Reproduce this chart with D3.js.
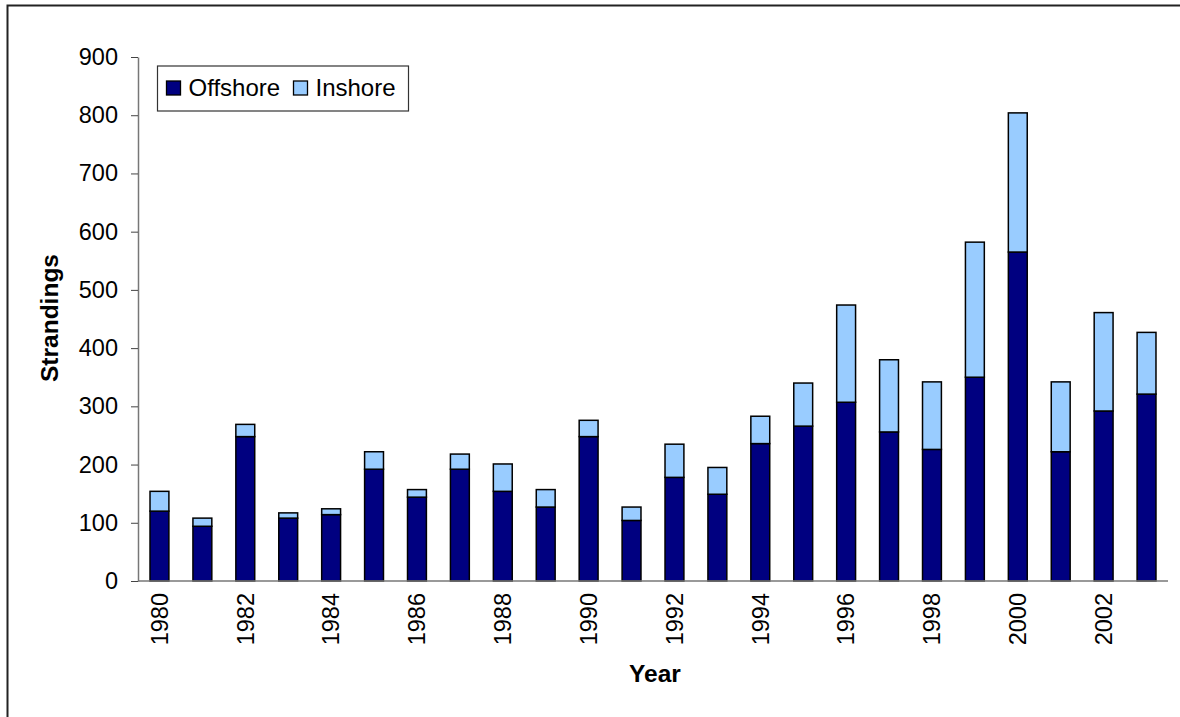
<!DOCTYPE html>
<html>
<head>
<meta charset="utf-8">
<script src="https://cdn.jsdelivr.net/npm/d3@7"></script>
<style>
  body { margin: 0; background: #fff; }
  text { font-family: "Liberation Sans", Arial, sans-serif; }
</style>
</head>
<body>
<script>
var years = [1980, 1981, 1982, 1983, 1984, 1985, 1986, 1987, 1988, 1989, 1990, 1991,
             1992, 1993, 1994, 1995, 1996, 1997, 1998, 1999, 2000, 2001, 2002, 2003];
var offshore = [120, 94, 248, 108, 114, 192, 144, 192, 154, 127, 248, 104,
                178, 149, 236, 266, 307, 256, 226, 350, 565, 222, 292, 321];
var inshore = [34, 14, 21, 9, 10, 30, 13, 26, 47, 30, 28, 23,
               57, 46, 47, 74, 167, 124, 116, 232, 239, 120, 169, 106];
var yTicks = [0, 100, 200, 300, 400, 500, 600, 700, 800, 900];
var seriesNames = ['Offshore', 'Inshore'];
var seriesColors = ['#000080', '#99ccff'];

var W = 1180, H = 717;
var plot = { left: 138, right: 1168, top: 57, bottom: 581 };
var FONT = '"Liberation Sans", Arial, sans-serif';

var svg = d3.select('body').append('svg')
  .attr('width', W)
  .attr('height', H);

// chart frame (clipped at right and bottom in the original)
svg.append('path')
  .attr('d', 'M7.5,' + H + ' V5.5 H' + W)
  .attr('fill', 'none')
  .attr('stroke', '#222')
  .attr('stroke-width', 2);

var x = d3.scaleBand()
  .domain(years)
  .range([plot.left, plot.right])
  .paddingInner(0.56)
  .paddingOuter(0.28);

var y = d3.scaleLinear()
  .domain([0, 900])
  .range([plot.bottom, plot.top]);

var rows = years.map((yr, i) => ({ year: yr, Offshore: offshore[i], Inshore: inshore[i] }));
var stacked = d3.stack().keys(seriesNames)(rows);

svg.selectAll('g.series')
  .data(stacked)
  .enter()
  .append('g')
  .attr('class', 'series')
  .attr('fill', (d, i) => seriesColors[i])
  .selectAll('rect')
  .data(d => d)
  .enter()
  .append('rect')
  .attr('x', d => x(d.data.year))
  .attr('y', d => y(d[1]))
  .attr('width', x.bandwidth())
  .attr('height', d => y(d[0]) - y(d[1]))
  .attr('stroke', '#000')
  .attr('stroke-width', 1.5);

// y axis
var yAxis = svg.append('g')
  .attr('transform', 'translate(' + plot.left + ',0)')
  .call(d3.axisLeft(y).tickValues(yTicks).tickSize(7).tickPadding(13).tickSizeOuter(0));
yAxis.select('.domain').attr('stroke', '#777').attr('stroke-width', 1.5);
yAxis.selectAll('.tick line').attr('stroke', '#444');
yAxis.selectAll('.tick text')
  .attr('font-size', 23.5)
  .attr('fill', '#000')
  .style('font-family', FONT);

// x axis
var xAxis = svg.append('g')
  .attr('transform', 'translate(0,' + plot.bottom + ')')
  .call(d3.axisBottom(x).tickValues(years.filter((d, i) => i % 2 === 0)).tickSize(0).tickSizeOuter(0));
xAxis.select('.domain')
  .attr('d', 'M' + plot.left + ',0H' + plot.right)
  .attr('stroke', '#777').attr('stroke-width', 1.5);
xAxis.selectAll('.tick text')
  .attr('font-size', 23.5)
  .attr('fill', '#000')
  .style('font-family', FONT)
  .attr('transform', 'rotate(-90)')
  .attr('text-anchor', 'end')
  .attr('x', -12)
  .attr('y', 0)
  .attr('dy', '0.35em');

// axis titles
svg.append('text')
  .attr('transform', 'translate(58,318) rotate(-90)')
  .attr('text-anchor', 'middle')
  .attr('font-size', 24.5)
  .attr('font-weight', 'bold')
  .text('Strandings');

svg.append('text')
  .attr('x', 655)
  .attr('y', 682)
  .attr('text-anchor', 'middle')
  .attr('font-size', 24.5)
  .attr('font-weight', 'bold')
  .text('Year');

// legend
var legend = svg.append('g').attr('transform', 'translate(157.5,66)');
legend.append('rect')
  .attr('width', 251)
  .attr('height', 45)
  .attr('fill', '#fff')
  .attr('stroke', '#333')
  .attr('stroke-width', 1.2);

var legendX = [9, 136];
var items = legend.selectAll('g.item')
  .data(seriesNames)
  .enter()
  .append('g')
  .attr('class', 'item')
  .attr('transform', (d, i) => 'translate(' + legendX[i] + ',0)');
items.append('rect')
  .attr('y', 15)
  .attr('width', 14)
  .attr('height', 14)
  .attr('fill', (d, i) => seriesColors[i])
  .attr('stroke', '#000')
  .attr('stroke-width', 1.3);
items.append('text')
  .attr('x', 22)
  .attr('y', 30)
  .attr('font-size', 24)
  .text(d => d);
</script>
</body>
</html>
